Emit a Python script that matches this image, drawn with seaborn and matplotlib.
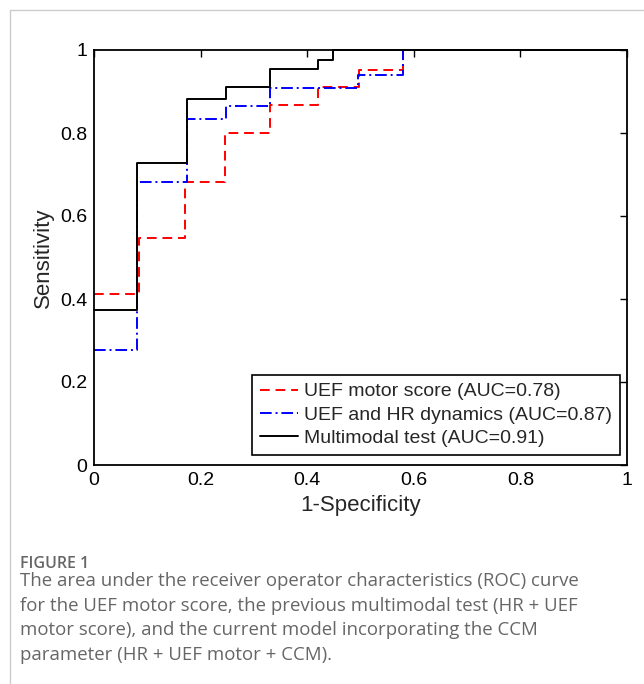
import matplotlib
matplotlib.use("Agg")
import matplotlib.pyplot as plt
import seaborn as sns
import pandas as pd
from matplotlib.lines import Line2D

sns.set_theme(style="white")
plt.rcParams['font.family'] = ['Liberation Sans', 'DejaVu Sans']

# Data (step ROC curves)
uef_x = [0.0, 0.085, 0.171, 0.246, 0.33, 0.421, 0.497, 0.58, 1.0]
uef_y = [0.412, 0.546, 0.681, 0.799, 0.867, 0.912, 0.952, 1.0, 1.0]
hr_x = [0.0, 0.08, 0.175, 0.248, 0.33, 0.496, 0.58, 1.0]
hr_y = [0.277, 0.681, 0.833, 0.866, 0.909, 0.94, 1.0, 1.0]
mm_x = [0.0, 0.08, 0.175, 0.248, 0.33, 0.42, 0.448, 1.0]
mm_y = [0.373, 0.727, 0.882, 0.912, 0.955, 0.977, 1.0, 1.0]
labels = ["UEF motor score (AUC=0.78)",
          "UEF and HR dynamics (AUC=0.87)",
          "Multimodal test (AUC=0.91)"]
ticks = [0, 0.2, 0.4, 0.6, 0.8, 1]
tick_labels = ["0", "0.2", "0.4", "0.6", "0.8", "1"]

fig = plt.figure(figsize=(6.44, 6.84), dpi=100)
ax = fig.add_axes([94/644, 1-465/684, 533/644, 415/684])

styles = [("red", (0, (5, 3))), ("blue", (0, (6, 2, 1, 2))), ("black", "-")]
series = [(uef_x, uef_y), (hr_x, hr_y), (mm_x, mm_y)]
handles = []
for (xs, ys), lab, (col, ls) in zip(series, labels, styles):
    df = pd.DataFrame({"x": xs, "y": ys})
    sns.lineplot(data=df, x="x", y="y", ax=ax, estimator=None, sort=False,
                 color=col, linestyle=ls, linewidth=1.4, drawstyle="steps-post",
                 clip_on=False)
    handles.append(Line2D([], [], color=col, linestyle=ls, linewidth=1.4))

ax.set_xlim(0, 1)
ax.set_ylim(0, 1)
ax.set_xticks(ticks)
ax.set_xticklabels(tick_labels)
ax.set_yticks(ticks)
ax.set_yticklabels(tick_labels)
ax.tick_params(direction="in", length=5, width=1, top=True, right=True,
               labelsize=14, colors="black", pad=5)
for s in ax.spines.values():
    s.set_visible(True)
    s.set_color("black")
    s.set_linewidth(1.3)
ax.set_xlabel("1-Specificity", fontsize=16, labelpad=4)
ax.set_ylabel("Sensitivity", fontsize=16, labelpad=4)

leg = ax.legend(handles, labels, loc="lower right",
                bbox_to_anchor=(0.987, 0.024), fontsize=14, frameon=True,
                fancybox=False, edgecolor="black", framealpha=1,
                handlelength=2.0, handletextpad=0.3, borderpad=0.4,
                labelspacing=0.3, borderaxespad=0)
leg.get_frame().set_linewidth(1.2)

# card border
fig.add_artist(Line2D([10/644, 10/644], [0, 1-10/684], color="#cccccc", lw=1,
                      transform=fig.transFigure))
fig.add_artist(Line2D([10/644, 1], [1-10/684, 1-10/684], color="#cccccc", lw=1,
                      transform=fig.transFigure))

cap_font = ['Open Sans', 'DejaVu Sans']
fig.text(20/644, 1-568/684, "FIGURE 1", fontsize=11.5, color="#666666",
         family=cap_font, weight="semibold", va="baseline", ha="left")
cap_lines = ["The area under the receiver operator characteristics (ROC) curve",
             "for the UEF motor score, the previous multimodal test (HR + UEF",
             "motor score), and the current model incorporating the CCM",
             "parameter (HR + UEF motor + CCM)."]
for i, line in enumerate(cap_lines):
    fig.text(20/644, 1-(586+24.7*i)/684, line, fontsize=13.4, color="#666666",
             family=cap_font, va="baseline", ha="left")

fig.savefig("out.png", dpi=100)
